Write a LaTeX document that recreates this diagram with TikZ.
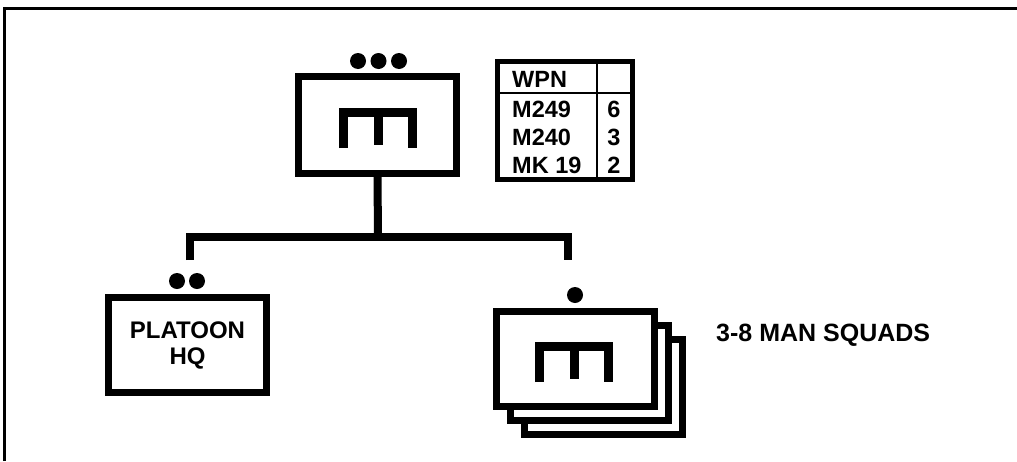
\documentclass[tikz,border=0pt]{standalone}
\usepackage{fontspec}
\setmainfont{Liberation Sans}
\begin{document}
\begin{tikzpicture}[x=1pt,y=-1pt,
  unit/.style={draw=black,fill=white,line width=7pt,inner sep=0pt,
    minimum width=158pt,minimum height=95pt,align=center,
    font=\fontsize{24}{26}\selectfont\bfseries},
  dot/.style={circle,fill=black,inner sep=0pt,minimum size=16pt},
  conn/.style={line width=8pt,line join=miter},
  frame/.style={line width=3pt},
  tbltxt/.style={inner sep=0pt,font=\fontsize{23.5}{23.5}\selectfont\bfseries},
  mg/.pic={
    \draw[line width=9pt,line join=miter] (-34.5,23) -- (-34.5,-12.5) -- (34.5,-12.5) -- (34.5,23);
    \draw[line width=9pt] (0,-12.5) -- (0,20);
  }]
\useasboundingbox (0,0) rectangle (1017,461);
% frame (top and left only)
\draw[frame] (4.5,461) -- (4.5,8.5) -- (1017,8.5);

% company / section box
\node[unit,minimum height=97pt] (co) at (377.5,125) {};
\pic at (378,125) {mg};
\node[dot] (cod1) at (358,61) {};
\node[dot] (cod2) at (378.5,61) {};
\node[dot] (cod3) at (399,61) {};

% weapons table
\node[draw=black,line width=5pt,inner sep=0pt,minimum width=135pt,minimum height=118pt] (wpn) at (565,120.5) {};
\coordinate (hdl) at (497.5,93);
\coordinate (hdr) at (632.5,93);
\coordinate (vt) at (597,61.5);
\coordinate (vb) at (597,179.5);
\draw[line width=2pt] (hdl) -- (hdr);
\draw[line width=2pt] (vt) -- (vb);
\node[tbltxt,anchor=west] (t0) at (512,79) {WPN};
\node[tbltxt,anchor=west] (t1) at (512,109) {M249};
\node[tbltxt,anchor=west] (t2) at (512,137) {M240};
\node[tbltxt,anchor=west] (t3) at (512,165) {MK 19};
\node[tbltxt] (n1) at (614,109) {6};
\node[tbltxt] (n2) at (614,137) {3};
\node[tbltxt] (n3) at (614,165) {2};

% platoon HQ
\node[unit] (hq) at (187.5,345) {PLATOON\\HQ};
\node[dot] (hqd1) at (177,281) {};
\node[dot] (hqd2) at (197,281) {};

% squads (stack of three)
\node[unit] (sq3) at (603,387) {};
\node[unit] (sq2) at (589,373) {};
\node[unit] (sq) at (575,359) {};
\pic at (574,359) {mg};
\node[dot] (sqd) at (575,295) {};
\node[anchor=west,inner sep=0pt,font=\fontsize{25}{27}\selectfont\bfseries] (sqlbl) at (716,335) {3-8 MAN SQUADS};

% connectors
\coordinate (bar) at (378,236.5);
\coordinate (jL) at (190,260);
\coordinate (jR) at (568,260);
\draw[conn] (co.south) -- (bar);
\draw[conn] (jL) -- (jL |- bar) -- (jR |- bar) -- (jR);
\end{tikzpicture}
\end{document}
